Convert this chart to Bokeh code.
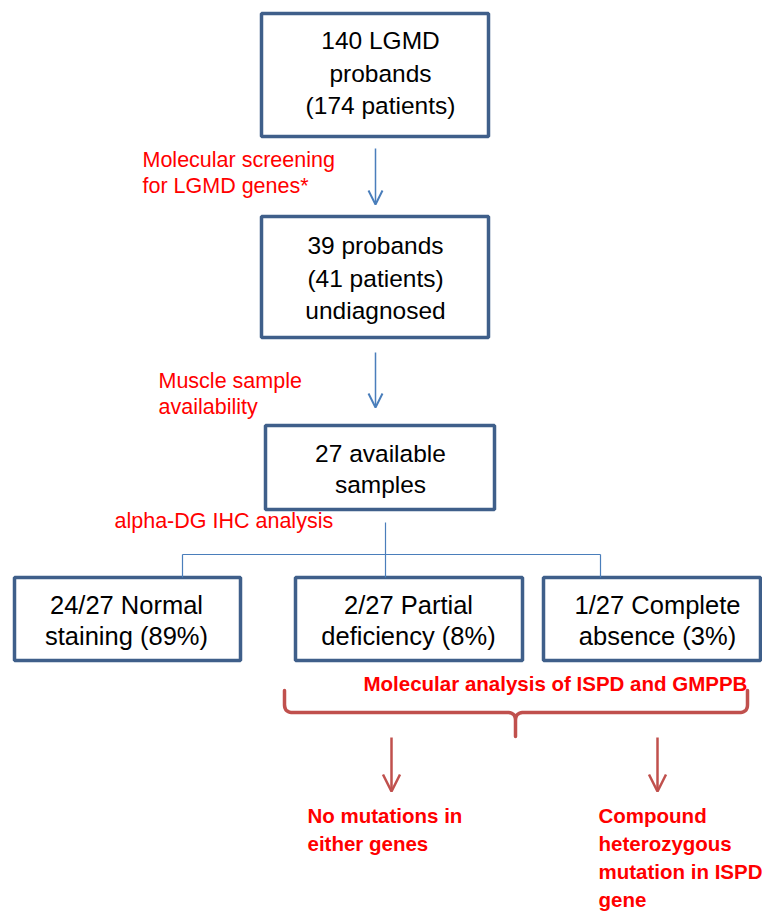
from bokeh.plotting import figure
from bokeh.models import Range1d, Arrow, OpenHead
from bokeh.core.properties import value
from bokeh.embed import file_html
from bokeh.resources import INLINE

FONT = "Liberation Sans"

# ---- diagram content ----
box_texts = [
    ["140 LGMD", "probands", "(174 patients)"],
    ["39 probands", "(41 patients)", "undiagnosed"],
    ["27 available", "samples"],
    ["24/27 Normal", "staining (89%)"],
    ["2/27 Partial", "deficiency (8%)"],
    ["1/27 Complete", "absence (3%)"],
]
step_labels = [
    ["Molecular screening", "for LGMD genes*"],
    ["Muscle sample", "availability"],
    ["alpha-DG IHC analysis"],
]
analysis_label = "Molecular analysis of ISPD and GMPPB"
outcome_texts = [
    ["No mutations in", "either genes"],
    ["Compound", "heterozygous", "mutation in ISPD", "gene"],
]

# ---- layout (picture pixel coordinates) ----
TY = -8  # text vertical adjustment
box_left = [261, 261, 265, 14, 295, 543]
box_right = [488, 488, 494, 240, 522, 760]
box_top = [13, 216, 425, 577, 577, 577]
box_bottom = [136, 337, 509, 660, 660, 660]
box_text_x = [380, 375, 380, 126, 408, 657]
box_text_y0 = [48, 253, 461, 612, 612, 612]
box_line_gap = [32.5, 32.5, 31, 31, 31, 31]
box_font_size = ["24.5px", "24.5px", "24.5px", "25.5px", "25.5px", "25.5px"]

label_x = [142, 158, 114]
label_y0 = [167, 388, 528]
label_gap = 26

BOX_COLOR = "#3F5F8A"
BLUE = "#4A7EBB"
RED_LINE = "#C0504D"
RED_TEXT = "#FF0000"

W, H = 762, 914
p = figure(width=W, height=H, x_range=Range1d(0, W), y_range=Range1d(H, 0),
           output_backend="svg", toolbar_location=None, min_border=0,
           background_fill_color="white", border_fill_color="white")
p.axis.visible = False
p.grid.visible = False
p.outline_line_color = None

# boxes
p.quad(left=box_left, right=box_right, top=box_top, bottom=box_bottom,
       fill_color="white", line_color=BOX_COLOR, line_width=3.5)

# box texts
tx, ty, tt, tf = [], [], [], []
for i, lines in enumerate(box_texts):
    for j, s in enumerate(lines):
        tx.append(box_text_x[i]); ty.append(box_text_y0[i] + j * box_line_gap[i] + TY)
        tt.append(s); tf.append(box_font_size[i])
p.text(x=tx, y=ty, text=tt, text_font_size=tf, text_align="center", text_baseline="alphabetic",
       text_font=value(FONT), text_color="black")

# step labels (red, normal)
lx, ly, lt = [], [], []
for i, lines in enumerate(step_labels):
    for j, s in enumerate(lines):
        lx.append(label_x[i]); ly.append(label_y0[i] + j * label_gap + TY); lt.append(s)
p.text(x=lx, y=ly, text=lt, text_align="left", text_baseline="alphabetic",
       text_font=value(FONT), text_font_size="21.5px", text_color=RED_TEXT)

# blue arrows
for (y0, y1) in [(148, 204), (352, 407)]:
    p.add_layout(Arrow(x_start=375, y_start=y0, x_end=375, y_end=y1,
                       line_color=BLUE, line_width=1.5,
                       end=OpenHead(size=14, line_color=BLUE, line_width=2)))

# tree connector
p.segment(x0=[385, 182, 182, 600], y0=[522, 554, 554, 554],
          x1=[385, 600, 182, 600], y1=[577, 554, 577, 577],
          line_color=BLUE, line_width=1.2)

# analysis label
p.text(x=[363], y=[691 + TY], text=[analysis_label], text_align="left", text_baseline="alphabetic",
       text_font=value(FONT), text_font_size="20.5px", text_font_style="bold", text_color=RED_TEXT)

# brace
def qcurve(p0, c, p1, n=12):
    out = []
    for k in range(n + 1):
        t = k / n
        out.append(((1-t)**2*p0[0] + 2*(1-t)*t*c[0] + t**2*p1[0],
                    (1-t)**2*p0[1] + 2*(1-t)*t*c[1] + t**2*p1[1]))
    return out

bl, br, bc, by, btop, bprong = 284, 747, 515, 712, 690, 736
r = 8
pts = [(bl, btop), (bl, by - r)]
pts += qcurve((bl, by - r), (bl, by), (bl + r, by))
pts += [(bc - r, by)]
pts += qcurve((bc - r, by), (bc, by), (bc, by + r))
pts += [(bc, bprong), (bc, by + r)]
pts += qcurve((bc, by + r), (bc, by), (bc + r, by))
pts += [(br - r, by)]
pts += qcurve((br - r, by), (br, by), (br, by - r))
pts += [(br, btop)]
p.line(x=[q[0] for q in pts], y=[q[1] for q in pts], line_color=RED_LINE,
       line_width=3.5, line_cap="round", line_join="round")

# red arrows
for xa in [391, 657]:
    p.add_layout(Arrow(x_start=xa, y_start=737, x_end=xa, y_end=791,
                       line_color=RED_LINE, line_width=2.5,
                       end=OpenHead(size=17, line_color=RED_LINE, line_width=2.5)))

# outcome texts
ox = [307, 598]
oy0 = 823
ogap = 28
otx, oty, ott = [], [], []
for i, lines in enumerate(outcome_texts):
    for j, s in enumerate(lines):
        otx.append(ox[i]); oty.append(oy0 + j * ogap + TY); ott.append(s)
p.text(x=otx, y=oty, text=ott, text_align="left", text_baseline="alphabetic",
       text_font=value(FONT), text_font_size="20.5px", text_font_style="bold", text_color=RED_TEXT)

open("out.html", "w").write(file_html(p, INLINE))
